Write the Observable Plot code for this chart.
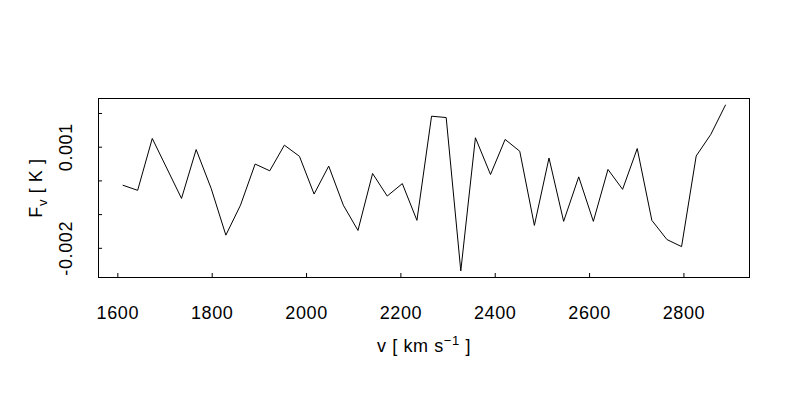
<!DOCTYPE html>
<html><head><meta charset="utf-8">
<script src="https://cdn.jsdelivr.net/npm/d3@7"></script>
<script src="https://cdn.jsdelivr.net/npm/@observablehq/plot@0.6"></script>
<style>body{margin:0;background:#fff;} svg{display:block} svg text{letter-spacing:0.6px}</style>
</head><body><div id="chart"></div>
<script>
const velocity = [1611,1642,1673,1735,1766,1798,1829,1860,1891,1922,1953,1985,2016,2047,2078,2109,2140,2171,2203,2234,2265,2296,2327,2358,2390,2421,2452,2483,2514,2545,2577,2608,2639,2670,2701,2732,2764,2795,2826,2857,2888];
const flux = [-0.00013,-0.00028,0.00126,-0.00052,0.00093,-0.00023,-0.00161,-0.00072,0.00050,0.00030,0.00106,0.00073,-0.00039,0.00044,-0.00072,-0.00147,0.00022,-0.00045,-0.00008,-0.00117,0.00192,0.00188,-0.00267,0.00128,0.00019,0.00123,0.00088,-0.00132,0.00068,-0.00120,0.00012,-0.00120,0.00034,-0.00025,0.00096,-0.00117,-0.00174,-0.00195,0.00074,0.00138,0.00225];
const xTicks = [1600,1800,2000,2200,2400,2600,2800];
const yTicks = [-0.002,-0.001,0,0.001,0.002];
const yTickLabels = ["-0.002","","","0.001",""];
const xTitleParts = ["v [ km s", "\u22121", " ]"];
const yTitleParts = ["F", "v", " [ K ]"];

const data = velocity.map((v, i) => ({v, f: flux[i]}));
const yLabelData = yTicks.map((t, i) => ({t, s: yTickLabels[i]})).filter(d => d.s);

const chart = Plot.plot({
  width: 800, height: 400,
  marginLeft: 98, marginRight: 51, marginTop: 98, marginBottom: 123,
  style: {fontFamily: "'Liberation Sans', Arial, sans-serif", fontSize: "18px", background: "white", color: "black"},
  x: {domain: [1559, 2939]},
  y: {domain: [-0.002866, 0.002445]},
  marks: [
    Plot.frame({stroke: "black", strokeWidth: 1}),
    Plot.axisX({ticks: xTicks, tickSize: -4, tickPadding: 33, tickFormat: d => String(d), label: null, fontSize: 18}),
    Plot.axisY({ticks: yTicks, tickSize: -4, tickFormat: () => "", label: null}),
    Plot.text(yLabelData, {y: "t", text: "s", frameAnchor: "left", rotate: -90, lineAnchor: "bottom", textAnchor: "middle", dx: -27, fontSize: 18}),
    Plot.line(data, {x: "v", y: "f", stroke: "black", strokeWidth: 1}),
    Plot.text([xTitleParts.join("")], {text: d => d, frameAnchor: "bottom", lineAnchor: "bottom", dy: 74, fontSize: 18}),
    Plot.text([yTitleParts.join("")], {text: d => d, frameAnchor: "left", rotate: -90, lineAnchor: "bottom", textAnchor: "middle", dx: -57, fontSize: 18})
  ]
});
document.getElementById("chart").appendChild(chart);

function rich(parts, shift) {
  const full = parts.join("");
  d3.select(chart).selectAll("text").filter(function() { return this.textContent === full; }).each(function() {
    const t = d3.select(this);
    t.text(null);
    t.append("tspan").text(parts[0]);
    t.append("tspan").attr("font-size", "13px").attr("dy", shift).text(parts[1]);
    t.append("tspan").attr("dy", -shift).text(parts[2]);
  });
}
rich(xTitleParts, -7);
rich(yTitleParts, 5);
</script>
</body></html>
